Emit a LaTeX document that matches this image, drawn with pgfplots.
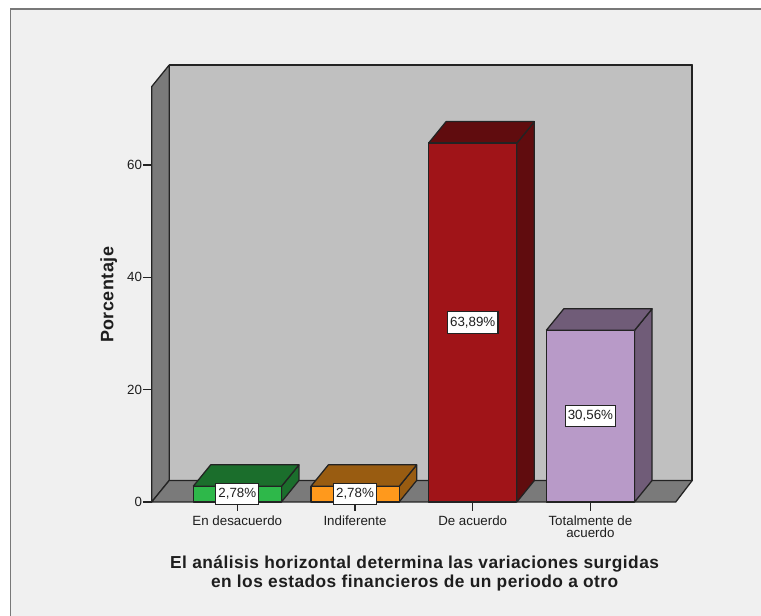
\documentclass[border=0pt]{standalone}
\usepackage{pgfplots}
\pgfplotsset{compat=1.18}
\usepackage{fontspec}
\setmainfont{Liberation Sans}
\newfontfamily\lblfont[LetterSpace=2.6]{Liberation Sans Bold}
\definecolor{panel}{RGB}{240,240,240}
\definecolor{frameg}{RGB}{120,120,120}
\definecolor{wallback}{RGB}{192,192,192}
\definecolor{wallside}{RGB}{122,122,122}
\definecolor{edge}{RGB}{35,35,35}
\definecolor{txt}{RGB}{30,30,30}
\definecolor{gF}{RGB}{46,184,74}\definecolor{gD}{RGB}{27,110,44}
\definecolor{oF}{RGB}{255,153,28}\definecolor{oD}{RGB}{153,92,17}
\definecolor{rF}{RGB}{160,20,24}\definecolor{rD}{RGB}{96,12,14}
\definecolor{pF}{RGB}{184,154,200}\definecolor{pD}{RGB}{112,92,120}
\begin{document}
\begin{tikzpicture}[x=1pt,y=1pt]
\fill[white] (0,0) rectangle (570.75,462);
\fill[panel,overlay] (7.9,-3) rectangle (574,455.2);
\draw[frameg,line width=1.1pt,overlay] (7.9,-3) -- (7.9,455.2) -- (574,455.2);
\begin{axis}[
  at={(113.775pt,85.5pt)}, anchor=south west,
  scale only axis, width=405.75pt, height=327.75pt,
  xmin=-0.7273, xmax=3.869, ymin=0, ymax=77.8,
  clip=false,
  axis line style={draw=none},
  xtick pos=bottom, ytick pos=left,
  tick align=outside,
  major tick length=6.6pt,
  tick style={edge,line width=0.85pt},
  xtick={0,1,2,3},
  xticklabels={En desacuerdo,Indiferente,De acuerdo,Totalmente de\\acuerdo},
  ytick={0,20,40,60},
  /pgf/number format/assume math mode=true,
  tick label style={font=\fontsize{10}{9}\selectfont,text=txt},
  xticklabel style={align=center,yshift=-1.7pt,inner ysep=2pt},
  yticklabel style={inner xsep=0.5pt},
  xlabel={El análisis horizontal determina las variaciones surgidas\\en los estados financieros de un periodo a otro},
  xlabel style={at={(axis description cs:0.486,-0.1627)},anchor=center,align=center,
    font=\fontsize{13}{14.2}\lblfont,text=txt},
  ylabel={Porcentaje},
  ylabel style={at={(axis description cs:-0.0795,0.474)},anchor=center,
    font=\fontsize{13.5}{14}\lblfont,text=txt},
  every axis plot/.append style={draw=edge,line width=0.95pt,line join=round,mark=none},
]
% walls and floor
\addplot[fill=wallback] coordinates {(3.865,3.83)(3.865,77.8)(-0.5786,77.8)(-0.5786,3.83)(3.865,3.83)};
\addplot[fill=wallside] coordinates {(-0.7273,0)(-0.5786,3.83)(-0.5786,77.8)(-0.7273,73.95)(-0.7273,0)};
\addplot[fill=wallside] coordinates {(-0.7273,0)(3.725,0)(3.865,3.83)(-0.5786,3.83)(-0.7273,0)};
\addplot[line width=1.2pt] coordinates {(3.862,3.83)(3.862,77.8)};
% En desacuerdo
\addplot[fill=gD] coordinates {(0.375,0)(0.5237,3.83)(0.5237,6.61)(0.375,2.78)(0.375,0)};
\addplot[fill=gD] coordinates {(-0.375,2.78)(0.375,2.78)(0.5237,6.61)(-0.2263,6.61)(-0.375,2.78)};
\addplot[ybar,bar shift=0pt,bar width=66.2pt,fill=gF] coordinates {(0,2.78)};
% Indiferente
\addplot[fill=oD] coordinates {(1.375,0)(1.5237,3.83)(1.5237,6.61)(1.375,2.78)(1.375,0)};
\addplot[fill=oD] coordinates {(0.625,2.78)(1.375,2.78)(1.5237,6.61)(0.7737,6.61)(0.625,2.78)};
\addplot[ybar,bar shift=0pt,bar width=66.2pt,fill=oF] coordinates {(1,2.78)};
% De acuerdo
\addplot[fill=rD] coordinates {(2.375,0)(2.5237,3.83)(2.5237,67.72)(2.375,63.89)(2.375,0)};
\addplot[fill=rD] coordinates {(1.625,63.89)(2.375,63.89)(2.5237,67.72)(1.7737,67.72)(1.625,63.89)};
\addplot[ybar,bar shift=0pt,bar width=66.2pt,fill=rF] coordinates {(2,63.89)};
% Totalmente de acuerdo
\addplot[fill=pD] coordinates {(3.375,0)(3.5237,3.83)(3.5237,34.39)(3.375,30.56)(3.375,0)};
\addplot[fill=pD] coordinates {(2.625,30.56)(3.375,30.56)(3.5237,34.39)(2.7737,34.39)(2.625,30.56)};
\addplot[ybar,bar shift=0pt,bar width=66.2pt,fill=pF] coordinates {(3,30.56)};
% value labels
\tikzset{vl/.style={fill=white,draw=edge,line width=0.8pt,text=txt,font=\fontsize{10}{10}\selectfont,
  inner xsep=2pt,inner ysep=0pt,minimum height=16pt}}
\node[vl] at (axis cs:0,1.39) {2,78\%};
\node[vl] at (axis cs:1,1.39) {2,78\%};
\node[vl] at (axis cs:2,31.95) {63,89\%};
\node[vl] at (axis cs:3,15.28) {30,56\%};
\end{axis}
\end{tikzpicture}
\end{document}
